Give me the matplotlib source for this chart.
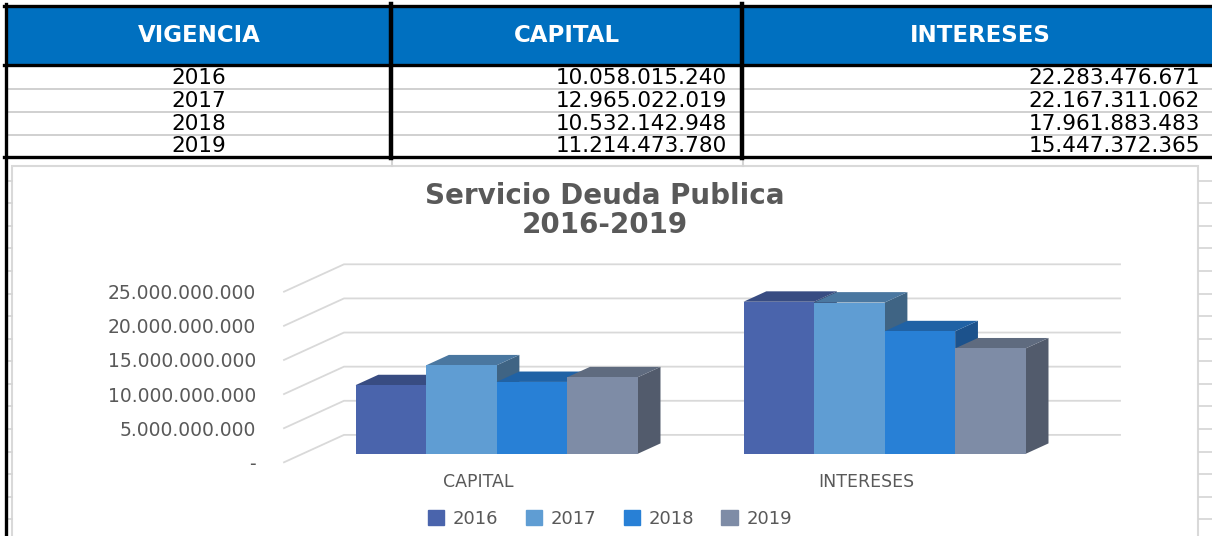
import matplotlib.pyplot as plt
from matplotlib.patches import Rectangle, Polygon, Patch
import numpy as np

# ---- data ----
years = ['2016', '2017', '2018', '2019']
categories = ['CAPITAL', 'INTERESES']
header = ['VIGENCIA', 'CAPITAL', 'INTERESES']
capital = [10058015240, 12965022019, 10532142948, 11214473780]
intereses = [22283476671, 22167311062, 17961883483, 15447372365]
y_ticks = [0, 5e9, 10e9, 15e9, 20e9, 25e9]

# face colours per year: front, top, side
front_colors = ['#4A64AC', '#5F9DD3', '#2880D6', '#7E8CA6']
top_colors = ['#384C82', '#4A77A0', '#2062A5', '#5F6B7F']
side_colors = ['#33466F', '#3F6484', '#1C528C', '#525B6C']
grey_txt = '#595959'


def miles(v):
    # 10058015240 -> 10.058.015.240 ; 0 -> '-'
    if v == 0:
        return '-'
    return f'{int(round(v)):,}'.replace(',', '.')


W, H = 1212, 536
fig = plt.figure(figsize=(W / 100, H / 100), dpi=100)
plt.rcParams['font.family'] = 'DejaVu Sans'

# background layer in pixel units: sheet grid, table, chart frame
bg = fig.add_axes([0, 0, 1, 1])
bg.set_xlim(0, W)
bg.set_ylim(H, 0)
bg.axis('off')

# spreadsheet row lines peeking around the chart frame
for yy in np.arange(180.5, H, 22.6):
    bg.plot([7, 11.5], [yy, yy], color='#D4D4D4', lw=1.2)
    bg.plot([1199, W], [yy, yy], color='#D4D4D4', lw=1.2)
for xx in (391.5, 743):
    bg.plot([xx, xx], [157, 166], color='#D4D4D4', lw=1.5)

# chart frame
bg.add_patch(Rectangle((11.5, 166), 1198 - 11.5, 400, fc='white',
                       ec='#D9D9D9', lw=1.5, zorder=1))

# table
bg.add_patch(Rectangle((6, 6), W - 6, 58, color='#0070C0', zorder=2))
col_x = [6, 390.5, 742, W + 5]
row_y = [66, 89, 112, 134.5, 156.5]
for yy in row_y[1:-1]:
    bg.plot([7, W], [yy, yy], color='#D0D0D0', lw=1.4, zorder=2)
for yy in (5.5, 64.5, 156.5):
    bg.plot([4, W], [yy, yy], color='black', lw=2.4, zorder=3)
bg.plot([6, 6], [4, H], color='black', lw=2.4, zorder=3)
for xx in col_x[1:3]:
    bg.plot([xx, xx], [4, 158], color='black', lw=3.2, zorder=3)

head_cx = [199, 567, 980]
for cx, name in zip(head_cx, header):
    bg.text(cx, 36, name, color='white', fontsize=16.5, fontweight='bold',
            ha='center', va='center', zorder=4)
row_cy = [78, 101, 124, 146]
for cy, yr, c, it in zip(row_cy, years, capital, intereses):
    bg.text(199, cy, yr, fontsize=15.5, ha='center', va='center', zorder=4)
    bg.text(727, cy, miles(c), fontsize=15.5, ha='right', va='center', zorder=4)
    bg.text(1200, cy, miles(it), fontsize=15.5, ha='right', va='center', zorder=4)

# title
bg.text(605, 196, 'Servicio Deuda Publica', fontsize=20, fontweight='bold',
        color=grey_txt, ha='center', va='center', zorder=4)
bg.text(605, 225, '2016-2019', fontsize=20, fontweight='bold',
        color=grey_txt, ha='center', va='center', zorder=4)

# ---- pseudo 3D column chart ----
cat_px = 388.0                    # width of one category on the front plane
px_per_val = 170.6 / y_ticks[-1]
DX = 60 / cat_px                  # wall depth, in category units
DY = 27.4 / px_per_val            # wall depth, in value units
x0_px = 284
y0_px = 462.3
ax_w = len(categories) * cat_px + 60
ax_h = y_ticks[-1] * px_per_val + 27.4
ax = fig.add_axes([x0_px / W, 1 - y0_px / H, ax_w / W, ax_h / H])
ax.set_xlim(0, len(categories) + DX)
ax.set_ylim(0, y_ticks[-1] + DY)
ax.patch.set_alpha(0)
for s in ax.spines.values():
    s.set_visible(False)

# side wall diagonals + back wall gridlines
for t in y_ticks:
    ax.plot([0, DX, len(categories) + DX], [t, t + DY, t + DY],
            color='#D9D9D9', lw=1.3, zorder=1, clip_on=False)

ax.set_yticks(y_ticks, [miles(t) for t in y_ticks])
ax.tick_params(axis='y', length=0, pad=20, labelsize=13.5, labelcolor=grey_txt)
ax.set_xticks(np.arange(len(categories)) + 0.5, categories)
ax.tick_params(axis='x', length=0, pad=8, labelsize=12.5, labelcolor=grey_txt)

gap = 1.5
w = 1 / (len(years) + gap)
f = 0.31     # bars sit this far back in the box
bd = 0.38    # bar depth as share of box depth
series = [np.array([capital[j], intereses[j]]) for j in range(len(years))]
base = f * DY
for j, vals in enumerate(series):
    lefts = np.arange(len(categories)) + gap * w / 2 + j * w + f * DX
    for left, v in zip(lefts, vals):
        r = left + w
        side = [(r, base), (r + bd * DX, base + bd * DY),
                (r + bd * DX, base + v + bd * DY), (r, base + v)]
        top = [(left, base + v), (r, base + v),
               (r + bd * DX, base + v + bd * DY), (left + bd * DX, base + v + bd * DY)]
        ax.add_patch(Polygon(side, closed=True, fc=side_colors[j], ec='none',
                             zorder=3 + 3 * j))
        ax.add_patch(Polygon(top, closed=True, fc=top_colors[j], ec='none',
                             zorder=4 + 3 * j))
    ax.bar(lefts, vals, width=w, bottom=base, align='edge',
           color=front_colors[j], zorder=5 + 3 * j)

handles = [Patch(color=c, label=y) for c, y in zip(front_colors, years)]
fig.legend(handles=handles, loc='center', bbox_to_anchor=(610 / W, 1 - 519 / H),
           ncol=4, frameon=False, fontsize=13, handlelength=0.9,
           handleheight=0.9, handletextpad=0.5, columnspacing=1.5,
           labelcolor=grey_txt)

fig.savefig('out.png', dpi=100)
